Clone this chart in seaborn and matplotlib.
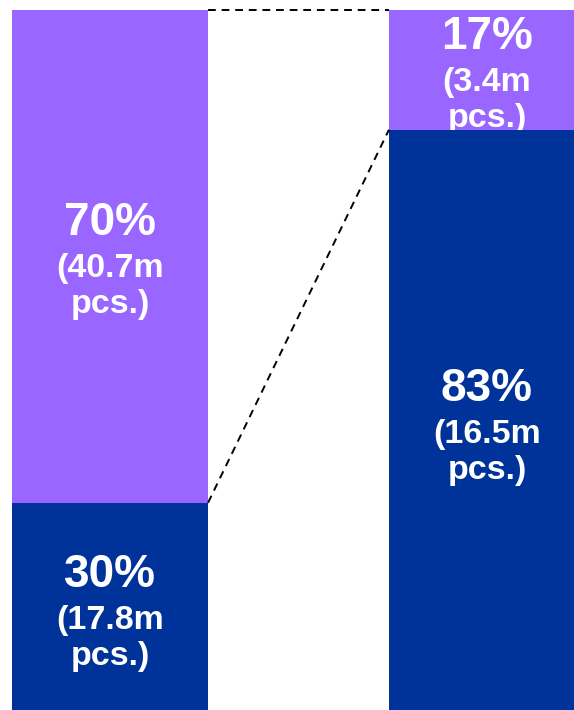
import matplotlib
matplotlib.use("Agg")
import matplotlib.pyplot as plt
import seaborn as sns
import pandas as pd
from matplotlib.transforms import offset_copy

categories = ["A", "B"]
bottom_pct = [30, 83]          # dark blue share
top_pct = [70, 17]             # purple share
bottom_labels = [["(17.8m", "pcs.)"], ["(16.5m", "pcs.)"]]
top_labels = [["(40.7m", "pcs.)"], ["(3.4m", "pcs.)"]]

PURPLE = "#9966FF"
BLUE = "#003399"

sns.set_theme(style="white")
plt.rcParams['font.family'] = ['Liberation Sans', 'DejaVu Sans']

fig = plt.figure(figsize=(5.74, 7.10), dpi=100)
ax = fig.add_axes([0, 0, 1, 1])

totals = [b + t for b, t in zip(bottom_pct, top_pct)]
df_tot = pd.DataFrame({"cat": categories, "val": totals})
df_bot = pd.DataFrame({"cat": categories, "val": bottom_pct})

sns.barplot(data=df_tot, x="cat", y="val", color=PURPLE, saturation=1,
            width=0.52, ax=ax, zorder=1)
n_purple = len(ax.patches)
sns.barplot(data=df_bot, x="cat", y="val", color=BLUE, saturation=1,
            width=0.52, ax=ax, zorder=3)
for p in ax.patches[n_purple:]:
    p.set_zorder(3)
for p in ax.patches:
    p.set_edgecolor("none")
    p.set_linewidth(0)

ax.set_xlim(-0.2918, 1.2308)
ax.set_ylim(0.57, 101.42)
ax.axis("off")

half = 0.52 / 2
# connector dashed lines
ax.plot([0 + half, 1 - half], [totals[0], totals[1]], ls=(0, (4, 3)),
        color="black", lw=1.4, zorder=4, clip_on=False)
ax.plot([0 + half, 1 - half], [bottom_pct[0], bottom_pct[1]], ls=(0, (4, 3)),
        color="black", lw=1.4, zorder=4)


def seg_label(x, y0, y1, pct, sub, z):
    c = (y0 + y1) / 2
    t1 = offset_copy(ax.transData, fig=fig, x=0, y=21, units="dots")
    ax.text(x, c, f"{pct}%", transform=t1, ha="center", va="baseline",
            color="white", fontsize=33, fontweight="bold", zorder=z)
    for k, line in enumerate(sub):
        tk = offset_copy(ax.transData, fig=fig, x=0, y=-21 - 36 * k, units="dots")
        ax.text(x, c, line, transform=tk, ha="center", va="baseline",
                color="white", fontsize=24.5, fontweight="bold", zorder=z)


for i in range(len(categories)):
    seg_label(i, 0, bottom_pct[i], bottom_pct[i], bottom_labels[i], 5)
    seg_label(i, bottom_pct[i], totals[i], top_pct[i], top_labels[i], 2)

fig.savefig("out.png", dpi=100)
